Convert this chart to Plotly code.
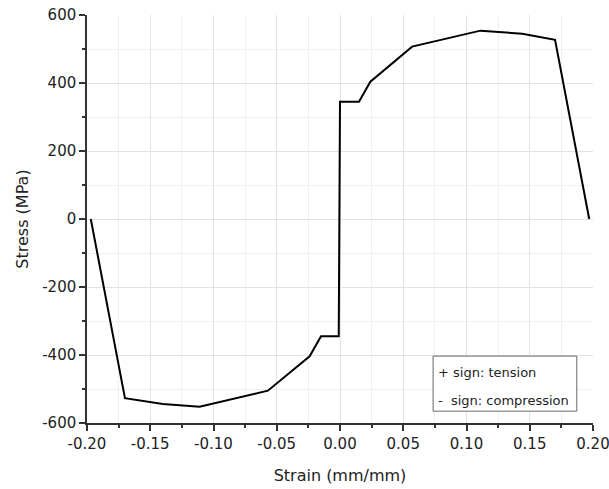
import plotly.graph_objects as go

strain = [-0.197, -0.170, -0.140, -0.111, -0.057, -0.024, -0.015, -0.001,
          0.000, 0.015, 0.024, 0.057, 0.111, 0.144, 0.170, 0.197]
stress = [0, -527, -544, -552, -505, -404, -345, -345,
          345, 345, 404, 507, 554, 545, 527, 0]

x_ticks = [-0.20, -0.15, -0.10, -0.05, 0.00, 0.05, 0.10, 0.15, 0.20]
x_labels = ["-0.20", "-0.15", "-0.10", "-0.05", "0.00", "0.05", "0.10", "0.15", "0.20"]
y_ticks = [-600, -400, -200, 0, 200, 400, 600]
y_labels = ["-600", "-400", "-200", "0", "200", "400", "600"]
legend_lines = ["+ sign: tension", "-\u00a0 sign: compression"]

fig = go.Figure()
fig.add_trace(go.Scatter(x=strain, y=stress, mode="lines",
                         line=dict(color="#000000", width=2), showlegend=False))

font = "DejaVu Sans, sans-serif"
axis_common = dict(
    showline=True, linecolor="#333333", linewidth=1.5,
    ticks="outside", ticklen=6, tickwidth=1.5, tickcolor="#333333",
    showgrid=True, gridcolor="#e2e2e2", gridwidth=1,
    zeroline=False, tickfont=dict(size=15, color="#222222"), automargin=False,
    ticklabeloverflow="allow",
)
fig.update_layout(
    width=609, height=489,
    margin=dict(l=87, r=16, t=15, b=66),
    paper_bgcolor="white", plot_bgcolor="white",
    font=dict(family=font, color="#222222"),
    xaxis=dict(range=[-0.20, 0.20], tickvals=x_ticks, ticktext=x_labels,
               minor=dict(dtick=0.025, ticks="outside", ticklen=3, tickcolor="#333333",
                          showgrid=True, gridcolor="#f0f0f0"),
               title=dict(text="Strain (mm/mm)", font=dict(size=16), standoff=18),
               **axis_common),
    yaxis=dict(range=[-600, 600], tickvals=y_ticks, ticktext=y_labels,
               minor=dict(dtick=100, ticks="outside", ticklen=3, tickcolor="#333333",
                          showgrid=True, gridcolor="#f0f0f0"),
               title=dict(text="Stress (MPa)", font=dict(size=16), standoff=10),
               **axis_common),
)
fig.add_shape(type="rect", xref="paper", yref="paper",
              x0=0.684, x1=0.968, y0=0.029, y1=0.164,
              line=dict(color="#666666", width=1), fillcolor="white", layer="above")
for txt, yy in zip(legend_lines, [0.123, 0.056]):
    fig.add_annotation(xref="paper", yref="paper", x=0.690, y=yy,
                       xanchor="left", yanchor="middle", text=txt, showarrow=False,
                       font=dict(size=13, color="#222222", family=font))
fig.write_html("out.html", config={"displayModeBar": False},
               post_script="document.body.style.margin='0';document.body.style.overflow='hidden';")
